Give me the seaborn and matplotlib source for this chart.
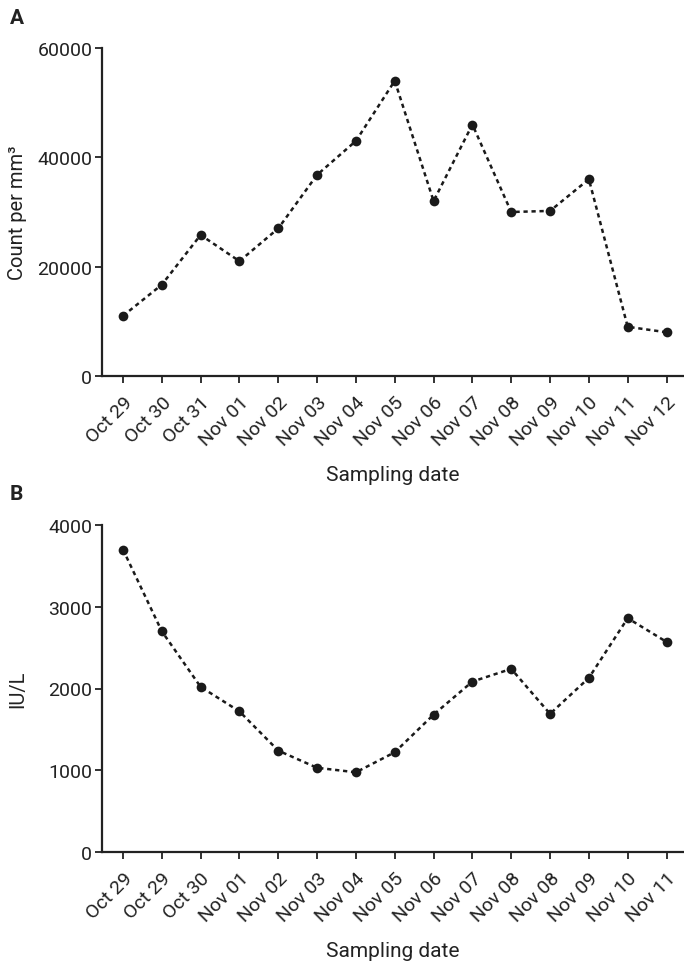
import numpy as np
import pandas as pd
import matplotlib
matplotlib.use("Agg")
import matplotlib.pyplot as plt
import seaborn as sns

# Panel A - counts
dates_a = ["Oct 29", "Oct 30", "Oct 31", "Nov 01", "Nov 02", "Nov 03", "Nov 04", "Nov 05",
           "Nov 06", "Nov 07", "Nov 08", "Nov 09", "Nov 10", "Nov 11", "Nov 12"]
count_a = [11000, 16700, 25800, 21000, 27000, 36800, 43000, 54000,
           32000, 46000, 30000, 30200, 36000, 9000, 8000]

# Panel B - IU/L
dates_b = ["Oct 29", "Oct 29", "Oct 30", "Nov 01", "Nov 02", "Nov 03", "Nov 04", "Nov 05",
           "Nov 06", "Nov 07", "Nov 08", "Nov 08", "Nov 09", "Nov 10", "Nov 11"]
iu_b = [3700, 2700, 2020, 1720, 1240, 1030, 975, 1220,
        1680, 2085, 2240, 1690, 2130, 2860, 2570]

sns.set_theme(style="ticks")
plt.rcParams["font.family"] = ["Roboto", "DejaVu Sans"]
plt.rcParams["axes.edgecolor"] = "#222222"
plt.rcParams["xtick.color"] = "#222222"
plt.rcParams["ytick.color"] = "#222222"
plt.rcParams["text.color"] = "#222222"
plt.rcParams["axes.labelcolor"] = "#222222"

fig = plt.figure(figsize=(6.84, 9.62), dpi=100)
ax_a = fig.add_axes([102 / 684, 1 - 377 / 962, 582 / 684, 328 / 962])
ax_b = fig.add_axes([102 / 684, 1 - 853 / 962, 582 / 684, 327 / 962])


def draw_panel(ax, labels, values, ymax, yticks, ylabel):
    df = pd.DataFrame({"pos": np.arange(len(labels)), "val": values})
    sns.lineplot(data=df, x="pos", y="val", ax=ax, color="#1a1a1a",
                 marker="o", markersize=7, markeredgewidth=0,
                 linestyle=(0, (1.7, 1.5)), linewidth=1.8)
    ax.set_xlim(-0.54, 14.45)
    ax.set_ylim(0, ymax)
    ax.set_yticks(yticks)
    ax.set_xticks(np.arange(len(labels)))
    ax.set_xticklabels(labels, rotation=45, ha="right", rotation_mode="anchor")
    ax.tick_params(axis="both", direction="out", length=5, width=1.3, labelsize=14)
    ax.tick_params(axis="x", pad=7)
    ax.tick_params(axis="y", pad=2)
    for s in ["left", "bottom"]:
        ax.spines[s].set_linewidth(1.6)
    sns.despine(ax=ax)
    ax.set_xlabel("Sampling date", fontsize=15, labelpad=12)
    ax.set_ylabel(ylabel, fontsize=14.5)
    # y label sits close to the left edge of the figure
    ax.yaxis.set_label_coords((27 - 102) / 582, 0.5)


draw_panel(ax_a, dates_a, count_a, 60000, [0, 20000, 40000, 60000], "Count per mm³")
draw_panel(ax_b, dates_b, iu_b, 4000, [0, 1000, 2000, 3000, 4000], "IU/L")

fig.text(10 / 684, 1 - 18 / 962, "A", fontsize=15, fontweight="bold", va="center")
fig.text(10 / 684, 1 - 495 / 962, "B", fontsize=15, fontweight="bold", va="center")

fig.savefig("out.png", dpi=100)
